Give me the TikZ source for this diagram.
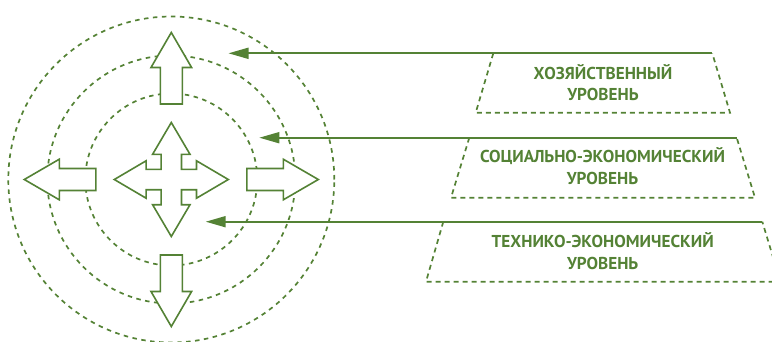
\documentclass[tikz,border=0pt]{standalone}
\usepackage{fontspec}
\newfontfamily\lblfont{PT Sans}
\usetikzlibrary{arrows.meta}
\definecolor{grn}{RGB}{84,130,53}
\tikzset{
  ring/.style={draw=grn, line width=1.7pt, dash pattern=on 4.5pt off 4.5pt},
  blockarr/.style={draw=grn, fill=white, line width=1.6pt, line join=miter},
  pointer/.style={draw=grn, line width=1.8pt, -{Triangle[length=20pt,width=11pt]}},
  trapside/.style={draw=grn, line width=1.7pt, dash pattern=on 5pt off 4pt},
  lbl/.style={text=grn, font=\lblfont\bfseries\fontsize{17.2}{21.6}\selectfont, align=center, inner sep=0pt}
}
\begin{document}
\begin{tikzpicture}[x=1pt,y=-1pt]
\useasboundingbox (0,0) rectangle (772,341);
\clip (0,0) rectangle (772,341);
\coordinate (C) at (171.3,179.5);
% rings
\node[ring, circle, minimum size=326pt, inner sep=0pt] (outer) at (C) {};
\node[ring, circle, minimum size=248pt, inner sep=0pt] (middle) at (C) {};
\node[ring, circle, minimum size=172pt, inner sep=0pt] (inner) at (C) {};
% outer block arrows
\foreach \a in {0,90,180,270}{
  \draw[blockarr, shift={(C)}, rotate=\a]
    (0,-147) -- (20.3,-112) -- (11,-112) -- (11,-75.5) -- (-11,-75.5) -- (-11,-112) -- (-20.3,-112) -- cycle;
}
% central four-way arrow
\draw[blockarr, shift={(C)}]
  (0,-57) -- (18.7,-25.2) -- (10.2,-25.2) -- (10.2,-10.2) -- (25.2,-10.2) -- (25.2,-18.7)
  -- (57,0) -- (25.2,18.7) -- (25.2,10.2) -- (10.2,10.2) -- (10.2,25.2) -- (18.7,25.2)
  -- (0,57) -- (-18.7,25.2) -- (-10.2,25.2) -- (-10.2,10.2) -- (-25.2,10.2) -- (-25.2,18.7)
  -- (-57,0) -- (-25.2,-18.7) -- (-25.2,-10.2) -- (-10.2,-10.2) -- (-10.2,-25.2) -- (-18.7,-25.2) -- cycle;
% trapezoid corners
\coordinate (t1tl) at (493.3,53.3); \coordinate (t1tr) at (712.3,53.3);
\coordinate (t1br) at (730,112.7);  \coordinate (t1bl) at (475.7,112.7);
\coordinate (t2tl) at (469.3,137.7); \coordinate (t2tr) at (736.7,137.7);
\coordinate (t2br) at (755,197.7);   \coordinate (t2bl) at (451,197.7);
\coordinate (t3tl) at (443.3,221.7); \coordinate (t3tr) at (762.3,221.7);
\coordinate (t3br) at (780.5,281.7); \coordinate (t3bl) at (426,281.7);
\foreach \t in {t1,t2,t3}{
  \draw[trapside] (\t tl) -- (\t bl) -- (\t br) -- (\t tr);
}
% arrow targets
\coordinate (p1) at (228.5,53.3);
\coordinate (p2) at (259.3,137.7);
\coordinate (p3) at (205.7,221.7);
\draw[pointer] (t1tr) -- (p1);
\draw[pointer] (t2tr) -- (p2);
\draw[pointer] (t3tr) -- (p3);
% labels
\node[lbl] (l1) at (603,82.5) {ХОЗЯЙСТВЕННЫЙ\\УРОВЕНЬ};
\node[lbl] (l2) at (602.5,166) {СОЦИАЛЬНО-ЭКОНОМИЧЕСКИЙ\\УРОВЕНЬ};
\node[lbl] (l3) at (602.7,251) {ТЕХНИКО-ЭКОНОМИЧЕСКИЙ\\УРОВЕНЬ};
\end{tikzpicture}
\end{document}
